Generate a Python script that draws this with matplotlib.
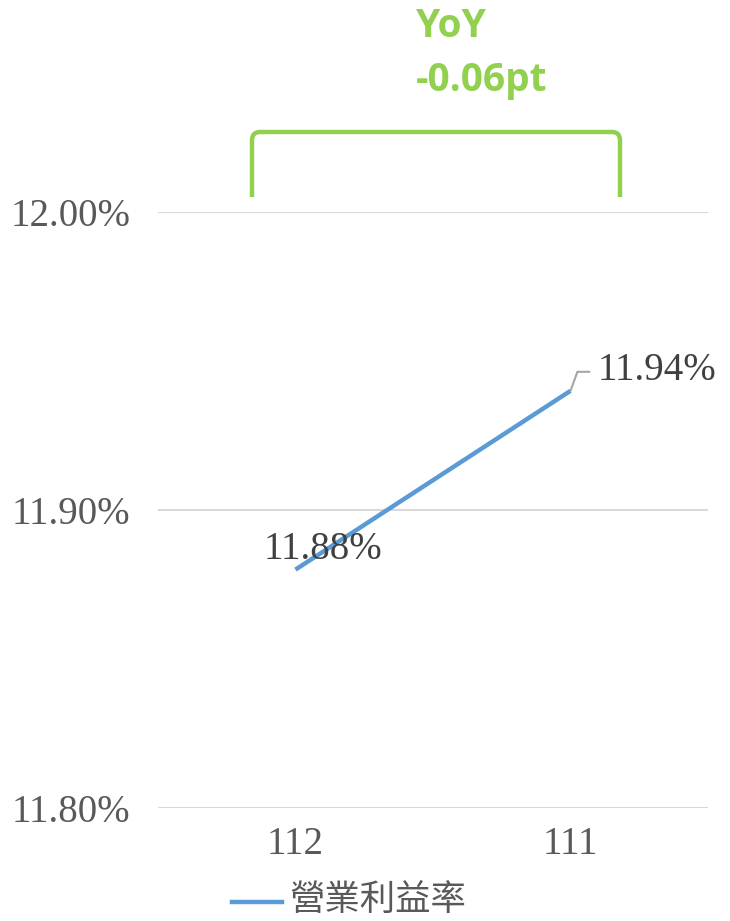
import matplotlib
matplotlib.use('Agg')
import matplotlib.pyplot as plt
from matplotlib.path import Path
from matplotlib.patches import PathPatch

# data
years = ['112', '111']
margin = [11.88, 11.94]
yoy_lines = ['YoY', '-0.06pt']
series_name = '營業利益率'
y_ticks = [11.80, 11.90, 12.00]

blue = '#5B9BD5'
green = '#92D050'
grey_txt = '#595959'
num_font = 'Liberation Serif'

fig = plt.figure(figsize=(7.3, 9.21), dpi=100)
W, H = 730, 921
ax = fig.add_axes([158 / W, 1 - 808 / H, 550 / W, (808 - 212) / H])

x = list(range(len(years)))
ax.plot(x, margin, color=blue, lw=3.2, solid_capstyle='butt')
ax.set_xlim(-0.5, 1.5)
ax.set_ylim(11.80, 12.00)
ax.set_yticks(y_ticks)
ax.set_yticklabels([f'{v:.2f}%' for v in y_ticks], fontfamily=num_font,
                   fontsize=28, color=grey_txt)
ax.set_xticks(x)
ax.set_xticklabels(years, fontfamily=num_font, fontsize=28, color=grey_txt)
ax.tick_params(length=0, axis='y', pad=20)
ax.tick_params(length=0, axis='x', pad=13)
ax.grid(axis='y', color='#D9D9D9', lw=1.5)
ax.set_axisbelow(True)
for s in ax.spines.values():
    s.set_visible(False)

# data labels
ax.annotate(f'{margin[0]:.2f}%', (x[0], margin[0]), xytext=(-32, 20),
            textcoords='offset pixels', ha='left', va='center',
            fontfamily=num_font, fontsize=28, color='#404040')
ax.annotate(f'{margin[1]:.2f}%', (x[1], margin[1]), xytext=(27, 20),
            textcoords='offset pixels', ha='left', va='center',
            fontfamily=num_font, fontsize=28, color='#404040')
# leader line for the 111 label
ax.annotate('', (x[1], margin[1]), xytext=(19, 19), textcoords='offset pixels',
            arrowprops=dict(arrowstyle='-', color='#A6A6A6', lw=1.5,
                            connectionstyle='angle,angleA=0,angleB=70,rad=0',
                            shrinkA=0, shrinkB=0))

# green bracket (figure pixels, y from top)
r = 8
xl, xr, yt, yb = 252, 620, 132, 197
pts = [(xl, yb), (xl, yt + r), (xl, yt), (xl + r, yt), (xr - r, yt),
       (xr, yt), (xr, yt + r), (xr, yb)]
codes = [Path.MOVETO, Path.LINETO, Path.CURVE3, Path.CURVE3, Path.LINETO,
         Path.CURVE3, Path.CURVE3, Path.LINETO]
verts = [(px / W, 1 - py / H) for px, py in pts]
fig.patches.append(PathPatch(Path(verts, codes), fill=False, edgecolor=green,
                             lw=3.2, transform=fig.transFigure, joinstyle='round'))

for txt, yc in zip(yoy_lines, [22, 76]):
    fig.text(416 / W, 1 - yc / H, txt, ha='left', va='center_baseline',
             fontfamily='Open Sans', fontweight='bold', fontsize=28, color=green)

# legend
fig.add_artist(plt.Line2D([232 / W, 282 / W], [1 - 902 / H, 1 - 902 / H],
                          color=blue, lw=3.2))
fig.text(289 / W, 1 - 900 / H, series_name, ha='left', va='center',
         fontfamily=['Noto Sans CJK TC', 'DejaVu Sans'], fontsize=25.5,
         color=grey_txt, fontweight='light')

fig.savefig('out.png', dpi=100)
